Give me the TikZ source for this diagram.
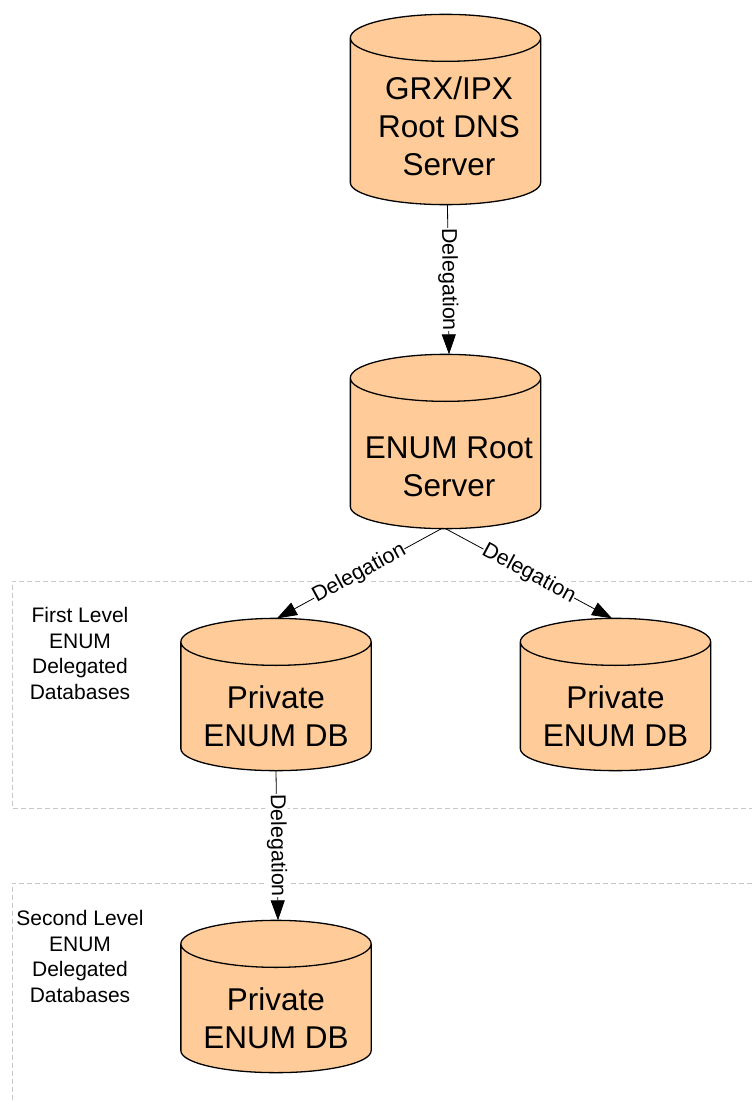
\documentclass[tikz,border=0pt]{standalone}
\usepackage{fontspec}
\setmainfont{Liberation Sans}
\usetikzlibrary{arrows.meta}
\definecolor{dbfill}{HTML}{FFCC99}
\definecolor{zoneline}{HTML}{C8C8C8}
\makeatletter
\pgfdeclareshape{dbcan}{
  \inheritsavedanchors[from=rectangle]
  \inheritanchorborder[from=rectangle]
  \inheritanchor[from=rectangle]{center}
  \inheritanchor[from=rectangle]{north}
  \inheritanchor[from=rectangle]{south}
  \inheritanchor[from=rectangle]{east}
  \inheritanchor[from=rectangle]{west}
  \backgroundpath{
    \southwest \edef\dbxa{\the\pgf@x}\edef\dbya{\the\pgf@y}
    \northeast \edef\dbxb{\the\pgf@x}\edef\dbyb{\the\pgf@y}
    \pgfmathsetlengthmacro\dbrx{(\dbxb-\dbxa)/2}
    \pgfpathmoveto{\pgfpoint{\dbxa}{\dbyb-23.5pt}}
    \pgfpatharc{180}{0}{\dbrx and 23.5pt}
    \pgfpathlineto{\pgfpoint{\dbxb}{\dbya+22pt}}
    \pgfpatharc{0}{-180}{\dbrx and 22pt}
    \pgfpathclose
    \pgfpathmoveto{\pgfpoint{\dbxb}{\dbyb-23.5pt}}
    \pgfpatharc{0}{-180}{\dbrx and 23.5pt}
  }
}
\makeatother
\newcommand{\dbtop}[1]{\rule{0pt}{#1pt}}
\newcommand{\dbshift}{\hspace*{7pt}}
\tikzset{
  db/.style={shape=dbcan,draw=black,fill=dbfill,line width=1.3pt,inner sep=0pt,
    minimum width=189pt,align=center,
    font=\fontsize{31.5pt}{38.2pt}\selectfont},
  zonebox/.style={draw=zoneline,line width=1pt,dash pattern=on 5pt off 3pt},
  zonetext/.style={align=center,inner sep=0pt,
    font=\fontsize{21pt}{25.7pt}\selectfont},
  delegates/.style={draw=black,line width=0.8pt,
    -{Triangle[length=20pt,width=14pt]}},
  delegtext/.style={fill=white,inner xsep=0pt,inner ysep=1pt,sloped,midway,
    font=\fontsize{21.5pt}{25pt}\selectfont},
}
\begin{document}
\begin{tikzpicture}[x=1pt,y=-1pt]
\useasboundingbox (0,0) rectangle (753,1102);
\clip (0,0) rectangle (753,1102);

\draw[zonebox] (752,581) -- (12,581) -- (12,808) -- (752,808);
\draw[zonebox] (752,883) -- (12,883) -- (12,1102);

\node[zonetext] (first) at (80,653.5) {First Level\\ENUM\\Delegated\\Databases};
\node[zonetext] (second) at (80,956.5) {Second Level\\ENUM\\Delegated\\Databases};

\node[db,minimum height=189pt] (grx) at (445.5,109.5)
  {\dbtop{56}\dbshift GRX/IPX\\\dbshift Root DNS\\\dbshift Server};
\node[db,minimum height=173pt] (enum) at (445.5,441.5)
  {\dbtop{73}\dbshift ENUM Root\\\dbshift Server};
\node[db,minimum height=151pt] (privA) at (276,694.5)
  {\dbtop{66}Private\\ENUM DB};
\node[db,minimum height=151pt] (privB) at (615.5,694.5)
  {\dbtop{66}Private\\ENUM DB};
\node[db,minimum height=151pt] (privC) at (276,996.5)
  {\dbtop{67}Private\\ENUM DB};

\draw[delegates] ([xshift=2pt]grx.south) -- node[delegtext] {Delegation} ([xshift=3.5pt]enum.north);
\draw[delegates] ([xshift=-4pt]enum.south) -- node[delegtext] {Delegation} ([xshift=1pt]privA.north);
\draw[delegates] ([xshift=0pt]enum.south) -- node[delegtext] {Delegation} ([xshift=-3.5pt]privB.north);
\draw[delegates] (privA.south) -- node[delegtext] {Delegation} ([xshift=2pt]privC.north);
\end{tikzpicture}
\end{document}
